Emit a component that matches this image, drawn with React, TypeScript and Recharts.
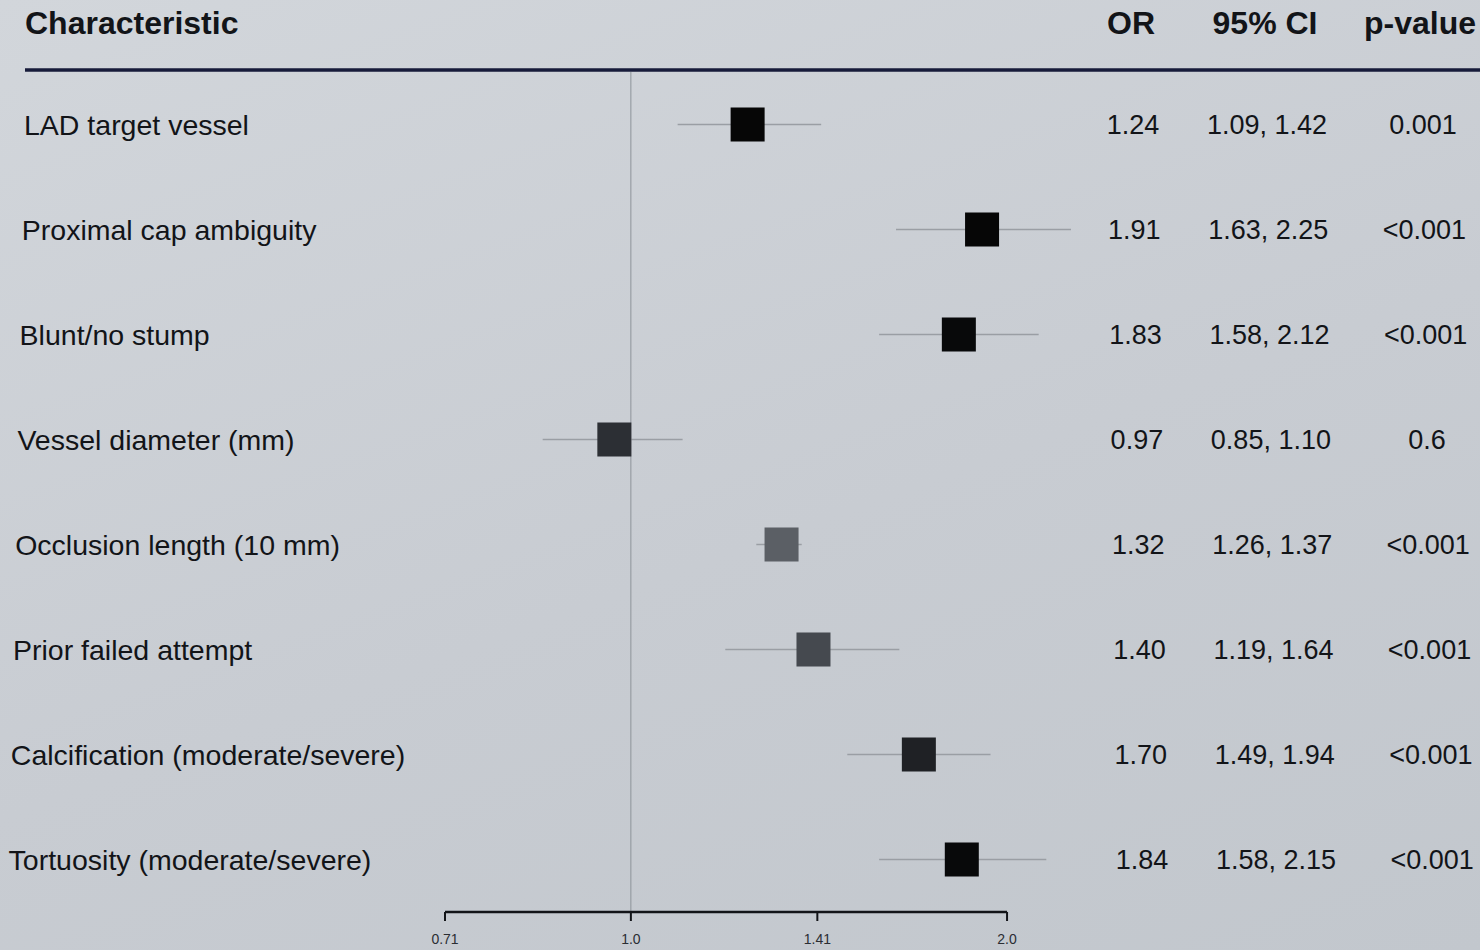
import React from "react";
import { ScatterChart, Scatter, XAxis, YAxis, ErrorBar, ReferenceLine } from "recharts";

const characteristics = [
  "LAD target vessel",
  "Proximal cap ambiguity",
  "Blunt/no stump",
  "Vessel diameter (mm)",
  "Occlusion length (10 mm)",
  "Prior failed attempt",
  "Calcification (moderate/severe)",
  "Tortuosity (moderate/severe)",
];
const oddsRatios = [1.24, 1.91, 1.83, 0.97, 1.32, 1.4, 1.7, 1.84];
const ciLower = [1.09, 1.63, 1.58, 0.85, 1.26, 1.19, 1.49, 1.58];
const ciUpper = [1.42, 2.25, 2.12, 1.1, 1.37, 1.64, 1.94, 2.15];
const pValues = ["0.001", "<0.001", "<0.001", "0.6", "<0.001", "<0.001", "<0.001", "<0.001"];
const xTicks = [0.71, 1, 1.41, 2];
const xTickLabels = ["0.71", "1.0", "1.41", "2.0"];

// the photographed squares are not all equally dark
const squareFills = ["#060606", "#060606", "#08090a", "#2c2f34", "#5b5f65", "#45494f", "#1f2125", "#08090a"];

const rows = characteristics.map((name, i) => ({
  row: i,
  name,
  or: oddsRatios[i],
  ci: [oddsRatios[i] - ciLower[i], ciUpper[i] - oddsRatios[i]],
  ciText: `${ciLower[i].toFixed(2)}, ${ciUpper[i].toFixed(2)}`,
  p: pValues[i],
}));

const FONT = '"Liberation Sans", Arial, Helvetica, sans-serif';
const INK = "#121418";

const RowTick = (props: any) => {
  const { y, payload } = props;
  const i = payload.value;
  const r = rows[i];
  if (!r) return null;
  // slight skew of the photo: left column drifts left, right columns drift right
  const drift = i * 1.3;
  return (
    <g fontFamily={FONT} fontSize={27} fill={INK}>
      <text x={24 - i * 2.2} y={y} dominantBaseline="central" fontSize={28.5}>
        {r.name}
      </text>
      <text x={1133 + drift} y={y} dominantBaseline="central" textAnchor="middle">
        {r.or.toFixed(2)}
      </text>
      <text x={1267 + drift} y={y} dominantBaseline="central" textAnchor="middle">
        {r.ciText}
      </text>
      <text x={1423 + drift} y={y} dominantBaseline="central" textAnchor="middle">
        {r.p}
      </text>
    </g>
  );
};

const Square = (props: any) => {
  const { cx, cy, payload } = props;
  const s = 34;
  return <rect x={cx - s / 2} y={cy - s / 2} width={s} height={s} fill={squareFills[payload.row]} />;
};

const App = () => {
  return (
    <div
      style={{
        position: "absolute",
        left: 0,
        top: 0,
        width: 1480,
        height: 950,
        background: "linear-gradient(160deg, #d2d6db 0%, #c8ccd2 55%, #c2c7cd 100%)",
        overflow: "hidden",
      }}
    >
      <svg width={1480} height={950} style={{ position: "absolute", left: 0, top: 0 }}>
        <g fontFamily={FONT} fontSize={32} fontWeight="bold" fill={INK}>
          <text x={25} y={34}>Characteristic</text>
          <text x={1131} y={34} textAnchor="middle">OR</text>
          <text x={1265} y={34} textAnchor="middle">95% CI</text>
          <text x={1420} y={34} textAnchor="middle">p-value</text>
        </g>
        <line x1={25} y1={70} x2={1480} y2={70} stroke="#171b3a" strokeWidth={3.5} />
      </svg>
      <div style={{ position: "absolute", left: 0, top: 0 }}>
        <ScatterChart width={1480} height={950} margin={{ top: 72, right: 374, bottom: 8, left: 0 }}>
          <XAxis
            type="number"
            dataKey="or"
            scale="log"
            domain={[0.71, 2.4]}
            ticks={xTicks}
            tickFormatter={(v: number) => xTickLabels[xTicks.indexOf(v)] ?? ""}
            axisLine={false}
            tickLine={{ stroke: INK, strokeWidth: 2 }}
            tickSize={9}
            tickMargin={13}
            height={30}
            tick={{ fontSize: 14, fill: "#2a2d33", fontFamily: FONT }}
          />
          <YAxis
            type="number"
            dataKey="row"
            domain={[-0.5, 7.5]}
            reversed
            ticks={rows.map((r) => r.row)}
            width={445}
            axisLine={false}
            tickLine={false}
            tick={<RowTick />}
          />
          <ReferenceLine x={1} stroke="#8e9399" strokeWidth={1} />
          <ReferenceLine
            segment={[
              { x: xTicks[0], y: 7.5 },
              { x: xTicks[xTicks.length - 1], y: 7.5 },
            ]}
            stroke={INK}
            strokeWidth={2.5}
          />
          <Scatter data={rows} shape={<Square />} isAnimationActive={false}>
            <ErrorBar dataKey="ci" direction="x" width={0} stroke="#9a9ea4" strokeWidth={1.3} />
          </Scatter>
        </ScatterChart>
      </div>
    </div>
  );
};

export default App;
